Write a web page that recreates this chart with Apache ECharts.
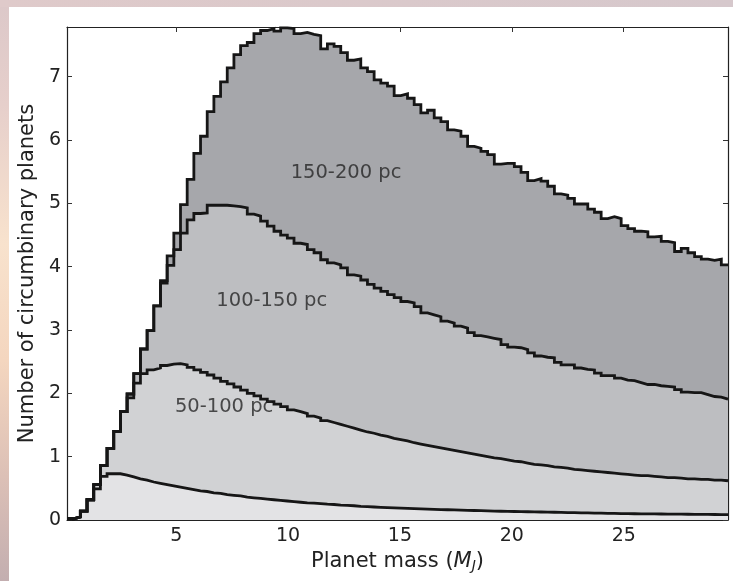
<!DOCTYPE html>
<html><head><meta charset="utf-8">
<script src="https://cdn.jsdelivr.net/npm/echarts@6/dist/echarts.min.js"></script>
<style>
html,body{margin:0;padding:0;}
body{width:733px;height:581px;position:relative;overflow:hidden;
background:linear-gradient(to bottom,#dcc8c9 0%,#e6cfcb 18%,#f8e2cd 42%,#f4d6bf 62%,#dcc0b6 82%,#c3aeb0 100%);}
#topstrip{position:absolute;left:0;top:0;width:733px;height:7px;background:linear-gradient(to right,#dfcaca,#d6c8cc);}
#white{position:absolute;left:9px;top:7px;width:724px;height:574px;background:#fff;}
#chart{position:absolute;left:0;top:0;width:733px;height:581px;}
</style></head><body>
<div id="topstrip"></div><div id="white"></div><div id="chart"></div>
<script>
// histogram bins (planet mass, M_J)
const binStart = 0.12;
const binEnd = 29.66;
const nBins = 99;
const xTicks = [5, 10, 15, 20, 25];
const yTicks = [0, 1, 2, 3, 4, 5, 6, 7];
const yMax = 7.785;

// cumulative counts (stacked boundaries)
const upTo200 = [0.02,0.05,0.14,0.32,0.56,0.86,1.13,1.40,1.71,1.99,
2.31,2.70,2.99,3.38,3.78,4.17,4.53,4.98,5.38,5.79,
6.06,6.45,6.69,6.92,7.14,7.35,7.49,7.54,7.68,7.73,
7.76,7.72,7.77,7.76,7.68,7.70,7.67,7.65,7.44,7.52,
7.48,7.38,7.26,7.28,7.14,7.08,6.95,6.90,6.85,6.70,
6.73,6.66,6.56,6.43,6.47,6.35,6.29,6.16,6.14,6.06,
5.90,5.87,5.82,5.77,5.62,5.63,5.63,5.58,5.49,5.36,
5.39,5.35,5.27,5.15,5.13,5.08,4.99,4.99,4.91,4.86,
4.76,4.79,4.76,4.65,4.60,4.56,4.55,4.47,4.48,4.40,
4.38,4.24,4.29,4.22,4.16,4.12,4.10,4.12,4.03];
const upTo150 = [0.02,0.05,0.14,0.32,0.56,0.86,1.13,1.40,1.71,1.99,
2.31,2.70,2.99,3.38,3.74,4.02,4.27,4.53,4.74,4.84,
4.85,4.97,4.97,4.97,4.96,4.95,4.93,4.83,4.80,4.72,
4.64,4.56,4.50,4.45,4.37,4.35,4.27,4.22,4.11,4.06,
4.03,3.98,3.87,3.85,3.79,3.72,3.66,3.61,3.56,3.51,
3.45,3.43,3.37,3.27,3.24,3.21,3.14,3.11,3.06,3.03,
2.96,2.91,2.89,2.87,2.85,2.77,2.73,2.72,2.69,2.64,
2.59,2.57,2.56,2.49,2.45,2.45,2.40,2.38,2.37,2.32,
2.28,2.28,2.24,2.21,2.20,2.17,2.14,2.14,2.12,2.11,
2.10,2.06,2.02,2.01,2.01,1.98,1.95,1.94,1.91];
const upTo100 = [0.02,0.05,0.14,0.32,0.56,0.86,1.13,1.40,1.71,1.93,
2.16,2.31,2.37,2.40,2.44,2.46,2.47,2.45,2.41,2.37,
2.33,2.29,2.24,2.19,2.15,2.10,2.05,2.00,1.96,1.91,
1.87,1.83,1.79,1.74,1.71,1.68,1.64,1.61,1.57,1.54,
1.51,1.48,1.45,1.42,1.39,1.37,1.34,1.32,1.29,1.27,
1.25,1.22,1.20,1.18,1.16,1.14,1.12,1.10,1.08,1.06,
1.04,1.02,1.00,0.98,0.97,0.95,0.93,0.92,0.90,0.88,
0.87,0.86,0.84,0.83,0.82,0.80,0.79,0.78,0.77,0.76,
0.75,0.74,0.73,0.72,0.71,0.70,0.70,0.69,0.68,0.67,
0.67,0.66,0.65,0.65,0.64,0.64,0.63,0.63,0.62];
const upTo50 = [0.02,0.05,0.14,0.32,0.49,0.69,0.73,0.73,0.71,0.68,
0.65,0.63,0.60,0.58,0.56,0.54,0.52,0.50,0.48,0.46,
0.45,0.43,0.42,0.40,0.39,0.38,0.36,0.35,0.34,0.33,
0.32,0.31,0.30,0.29,0.28,0.27,0.265,0.26,0.25,0.245,
0.235,0.23,0.225,0.215,0.21,0.205,0.20,0.196,0.192,0.188,
0.184,0.18,0.176,0.172,0.168,0.165,0.162,0.159,0.156,0.153,
0.15,0.147,0.144,0.141,0.138,0.136,0.134,0.132,0.13,0.128,
0.126,0.124,0.122,0.12,0.118,0.116,0.114,0.112,0.11,0.108,
0.106,0.104,0.102,0.10,0.099,0.098,0.097,0.096,0.095,0.094,
0.093,0.092,0.091,0.09,0.089,0.088,0.087,0.086,0.085];

const labelNames = ['150-200 pc', '100-150 pc', '50-100 pc'];
const labelX = [12.59, 9.27, 7.14];
const labelY = [5.48, 3.46, 1.78];

const fills = ['#a6a7ab', '#bdbec1', '#d1d2d4', '#e3e3e5'];
const layers = [upTo200, upTo150, upTo100, upTo50];

const binWidth = (binEnd - binStart) / nBins;
function stepData(vals){
  const d = vals.map((v,i)=>[binStart + i*binWidth, v]);
  d.push([binStart + vals.length*binWidth, vals[vals.length-1]]);
  return d;
}
const FONT = 'DejaVu Sans';
const series = [];
layers.forEach((vals, k)=>{
  series.push({type:'line', step:'end', data: stepData(vals), symbol:'none', silent:true,
    lineStyle:{width:0, opacity:0}, areaStyle:{color: fills[k], opacity:1}, z:1});
});
layers.forEach((vals)=>{
  series.push({type:'line', step:'end', data: stepData(vals), symbol:'none', silent:true,
    lineStyle:{width:2.8, color:'#161616', join:'miter'}, z:3});
});
series.push({type:'scatter', symbolSize:0, silent:true, z:5,
  data: labelNames.map((n,i)=>({name:n, value:[labelX[i], labelY[i]]})),
  label:{show:true, position:'inside', formatter:'{b}', color:'#262626', fontSize:19.5, fontFamily:FONT}});

const axisLine = {show:true, onZero:false, lineStyle:{color:'#222', width:1.2}};
const tick = (vals)=>({show:true, inside:true, length:5, lineStyle:{color:'#333', width:1}, customValues: vals});
const chart = echarts.init(document.getElementById('chart'), null, {renderer:'canvas'});
chart.setOption({
  animation:false,
  backgroundColor:'transparent',
  grid:{left:67, top:27, width:661, height:493, containLabel:false},
  xAxis:[
    {type:'value', min:binStart, max:binEnd, position:'bottom', axisLine, axisTick:tick(xTicks),
     splitLine:{show:false},
     axisLabel:{customValues:xTicks, fontSize:19, color:'#222', fontFamily:FONT, margin:7},
     name:'Planet mass ({m|M}{s|J})', nameLocation:'middle', nameGap:29,
     nameTextStyle:{fontSize:21, color:'#222', fontFamily:FONT,
       rich:{m:{fontSize:21, fontStyle:'italic', fontFamily:FONT, color:'#222'},
             s:{fontSize:14, fontStyle:'italic', fontFamily:FONT, color:'#222', verticalAlign:'bottom', padding:[10,0,0,0]}}}},
    {type:'value', min:binStart, max:binEnd, position:'top', axisLine, axisTick:tick(xTicks),
     splitLine:{show:false}, axisLabel:{show:false}}
  ],
  yAxis:[
    {type:'value', min:0, max:yMax, position:'left', axisLine, axisTick:tick(yTicks),
     splitLine:{show:false},
     axisLabel:{customValues:yTicks, fontSize:19, color:'#222', fontFamily:FONT, margin:6},
     name:'Number of circumbinary planets', nameLocation:'middle', nameGap:27, nameRotate:90,
     nameTextStyle:{fontSize:21, color:'#222', fontFamily:FONT}},
    {type:'value', min:0, max:yMax, position:'right', axisLine, axisTick:tick(yTicks),
     splitLine:{show:false}, axisLabel:{show:false}}
  ],
  series
});
</script>
</body></html>
